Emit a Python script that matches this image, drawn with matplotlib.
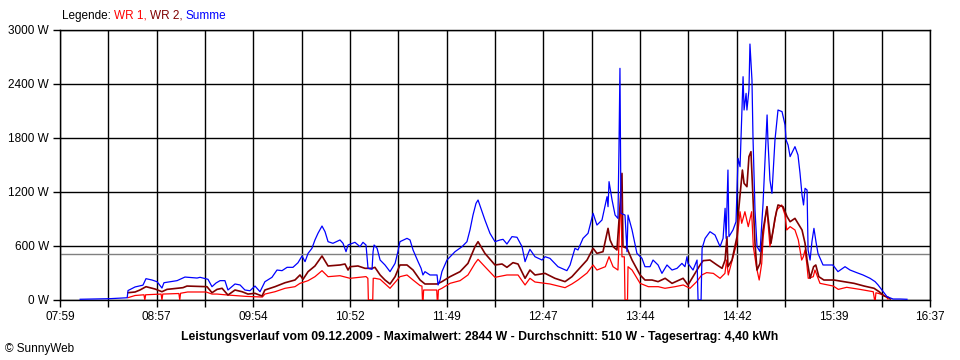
import numpy as np
import matplotlib
matplotlib.use('Agg')
from matplotlib import pyplot as plt

plt.rcParams['font.family'] = ['Liberation Sans', 'DejaVu Sans']

# Zeit in Minuten seit Mitternacht, Leistung in W
t_sum = [491, 509, 519, 519.5, 523.7, 528.4, 530.2, 533.8, 536.8, 539.7, 540.9, 548.7, 553.4, 560.6, 562.4, 567.1,
         569.5, 571.9, 574.3, 577.2, 579, 583.2, 586.2, 589.1, 592.1, 595.1, 598.1, 601, 605.2, 608.2, 611.2, 614.2,
         617.7, 620.7, 623.1, 624.9, 626.7, 629, 630.8, 632.6, 635, 636.8, 638.6, 641.5, 645.7, 647.5, 649.3, 650.5,
         654.6, 657.6, 659.4, 661.2, 662.4, 664.8, 665.4, 666, 667.8, 669.6, 672.5, 675.5, 678.5, 680.2, 681.4, 685.6,
         687.4, 689.2, 692.2, 694, 695.1, 696.3, 699.3, 703.5, 704.1, 705.3, 706.4, 709.4, 714.2, 718.4, 721.3, 723.1,
         724.9, 726.7, 727.9, 730.3, 732, 735, 738, 741, 742.8, 745.1, 748.1, 751.1, 754.1, 755.9, 757.6, 758.8,
         761.8, 766, 767.8, 770.7, 775.5, 780.8, 782.7, 785.6, 787.4, 790.4, 793.4, 796.4, 798.7, 801.7, 804.7, 805.3,
         805.9, 807.7, 809.5, 811.2, 811.8, 812.4, 813, 815.4, 816.6, 817.2, 819.6, 822.5, 825.5, 827.3, 830.3, 832.1,
         835.1, 837.4, 840.4, 843.4, 846.4, 849.3, 851.1, 852.3, 852.9, 855.9, 858.3, 858.9, 860.7, 861.3, 863.1, 866,
         869, 872, 873.8, 875, 875.6, 876.7, 877.3, 879.7, 881.5, 882.7, 883.9, 884.5, 885.7, 886.3, 887.5, 888,
         889.2, 889.8, 891, 891.6, 892.8, 894, 895.8, 897.6, 900, 900.5, 901.7, 902.9, 904.7, 906.5, 908.9, 910.7,
         911.3, 912.5, 913.7, 916.6, 918.4, 919.6, 920.8, 921.7, 922.6, 923.8, 924.4, 925.6, 926.7, 927.9, 929.1, 930.3,
         933.3, 939.2, 942.2, 946.4, 949.4, 953.5, 957.1, 961.3, 964.3, 966.1, 968.4, 971.4, 975, 979.1, 983.3]
p_sum = [8, 15, 25, 105, 145, 165, 237, 222, 203, 133, 192, 215, 255, 244, 252, 230,
         148, 189, 215, 215, 111, 178, 167, 111, 103, 155, 92, 203, 252, 333, 326, 363,
         363, 414, 489, 426, 518, 574, 667, 741, 822, 759, 648, 630, 667, 630, 537, 611,
         641, 593, 641, 611, 352, 341, 537, 611, 574, 444, 389, 315, 407, 537, 648, 685,
         667, 556, 426, 352, 278, 315, 278, 278, 167, 222, 315, 444, 537, 593, 648, 778,
         944, 1074, 1111, 981, 889, 741, 648, 667, 674, 622, 704, 697, 593, 426, 511, 563,
         481, 444, 481, 463, 370, 326, 389, 574, 556, 685, 741, 963, 833, 889, 1148, 1037,
         1315, 1111, 944, 907, 1667, 2574, 963, 944, 537, 944, 778, 518, 463, 370, 370, 444,
         389, 296, 389, 333, 352, 407, 370, 481, 407, 333, 444, 0, 0, 574, 685, 759,
         722, 593, 685, 1019, 685, 1444, 704, 778, 870, 1574, 1481, 1815, 2481, 2111, 2296, 2111,
         2333, 2844, 2444, 1815, 1000, 593, 537, 1074, 2056, 1778, 1333, 1185, 1778, 2111, 2093, 1944,
         1778, 1722, 1593, 1704, 1611, 1411, 1167, 1056, 1241, 1222, 556, 444, 648, 796, 648, 518,
         389, 389, 315, 370, 333, 303, 278, 241, 204, 167, 111, 37, 11, 11, 8]

t_wr2 = [519.5, 523.7, 526.6, 530.2, 535.6, 539.7, 542.7, 552.2, 554.6, 566.5, 569.5, 572.5, 575.5, 579, 583.2, 587.4,
         590.9, 595.1, 599.3, 601, 607, 613, 618.9, 621.9, 623.7, 626.7, 630.8, 635, 638.6, 645.7, 648.7, 650.5,
         651.7, 656.4, 660.6, 664.8, 666.5, 669.6, 672.5, 675.5, 678.5, 681.4, 685.6, 689.2, 693.4, 696.3, 703.5, 706.4,
         711.2, 717.2, 721.9, 726.1, 727.9, 732, 738, 742.2, 745.1, 748.7, 751.7, 755.9, 758.8, 761.8, 767.8, 773.7,
         779.7, 783.8, 787.4, 792.8, 796.4, 798.7, 802.3, 805.3, 806.5, 808.3, 810.6, 812.4, 813.6, 814.2, 816.6, 819.6,
         824.4, 827.3, 831.5, 835.1, 839.3, 843.4, 850, 852.9, 855.9, 860.1, 861.9, 866, 870.2, 873.2, 875, 876.1,
         876.7, 879.1, 882.1, 882.7, 885.3, 886.3, 888, 889.2, 890.4, 891.6, 892.8, 894, 895.8, 897.6, 900, 900.5,
         902.3, 904.7, 906.5, 909.5, 911.9, 913.7, 916.6, 918.4, 920.8, 922.6, 923.8, 925.6, 927.7, 929, 930.8, 933.8,
         939.8, 945.8, 951.8, 957.8, 963.7, 966.7, 969.7, 972.1, 973.3]
p_wr2 = [81, 89, 111, 148, 122, 92, 118, 137, 155, 148, 81, 118, 130, 55, 111, 92,
         66, 74, 44, 111, 148, 192, 222, 278, 230, 315, 378, 489, 378, 389, 400, 333,
         370, 378, 352, 352, 363, 278, 222, 178, 259, 389, 389, 333, 222, 178, 178, 204,
         259, 315, 407, 593, 648, 518, 389, 400, 363, 415, 400, 241, 333, 278, 296, 241,
         204, 259, 333, 444, 574, 518, 537, 796, 667, 593, 556, 1037, 1407, 593, 574, 444,
         278, 222, 222, 204, 241, 185, 241, 167, 259, 389, 437, 444, 389, 352, 444, 704,
         370, 444, 704, 926, 1444, 1296, 1259, 1593, 1648, 1148, 630, 333, 407, 778, 1037, 926,
         630, 907, 1056, 1037, 926, 870, 907, 852, 778, 630, 444, 241, 370, 389, 259, 222,
         222, 204, 185, 155, 130, 92, 44, 30, 11]

t_wr1 = [519.5, 523.7, 527, 529.0, 529.5, 530.0, 535, 539.2, 539.7, 540.2, 548, 549.8, 550.3, 550.8, 555, 566,
         569.5, 572.5, 579, 590, 598.1, 599.5, 601, 607, 613, 618.9, 621.9, 626.7, 630.8, 635, 638.6, 645.7,
         651.7, 656.4, 661.2, 662.3, 662.6, 665.2, 665.5, 666.5, 669.6, 675.5, 681.4, 685.6, 689.2, 693.4, 694.5, 694.8,
         695.2, 695.5, 703.3, 703.6, 704.0, 704.3, 706.4, 711.2, 717.2, 721.9, 726.1, 727.9, 732, 738, 745.1, 751.7,
         755.9, 758.8, 761.8, 770.7, 779.7, 783.8, 787.4, 792.8, 796.4, 798.7, 803.7, 805.9, 808.3, 811.2, 812.4, 813.0,
         813.6, 815.0, 815.4, 816.9, 817.2, 819.6, 824.4, 829.3, 835.2, 839.2, 845.2, 850.1, 854.1, 858.1, 861.1, 864,
         868, 872, 874.9, 875.9, 876.9, 881.9, 883.9, 884.9, 886.8, 888.8, 890.8, 891.8, 893.8, 895.3, 896.8, 897.7,
         899.8, 901.7, 903.7, 905.7, 908.7, 910.7, 911.7, 913.7, 916.6, 918.6, 920.6, 921.6, 922.6, 923.6, 924.5, 927.5,
         928.5, 931.5, 939.4, 942.4, 947.4, 955.3, 963.2, 964.0, 964.4, 964.8, 966.2, 969.2, 971.2, 972]
p_wr1 = [26, 50, 55, 58, 0, 58, 62, 66, 0, 66, 70, 72, 0, 75, 89, 89,
         66, 66, 55, 40, 33, 33, 66, 92, 130, 148, 185, 215, 259, 326, 259, 270,
         241, 250, 260, 241, 0, 0, 241, 241, 230, 130, 259, 278, 222, 160, 155, 0,
         0, 111, 111, 0, 0, 111, 130, 185, 215, 278, 407, 452, 370, 252, 278, 278,
         167, 241, 200, 178, 137, 178, 222, 300, 389, 333, 370, 481, 370, 333, 926, 1150,
         480, 480, 0, 0, 370, 333, 185, 148, 148, 130, 148, 167, 130, 204, 278, 304,
         296, 241, 296, 444, 278, 630, 981, 852, 981, 815, 981, 593, 352, 222, 407, 704,
         1037, 593, 778, 1000, 1056, 944, 778, 815, 778, 667, 444, 481, 556, 407, 241, 259,
         333, 185, 155, 118, 141, 118, 92, 0, 0, 80, 74, 55, 30, 10]

durchschnitt = 510
x_labels = ['07:59', '08:57', '09:54', '10:52', '11:49', '12:47', '13:44', '14:42', '15:39', '16:37']
y_ticks = [0, 600, 1200, 1800, 2400, 3000]
titel = 'Leistungsverlauf vom 09.12.2009 - Maximalwert: 2844 W - Durchschnitt: 510 W - Tagesertrag: 4,40 kWh'

fig = plt.figure(figsize=(9.6, 3.6), dpi=100)
ax = fig.add_axes([60/960, 60/360, 870/960, 270/360])

ax.plot(t_wr1, p_wr1, color='#ff0000', lw=0.9, zorder=3)
ax.plot(t_wr2, p_wr2, color='#800000', lw=1.2, zorder=4)
ax.plot(t_sum, p_sum, color='#0000ff', lw=0.9, zorder=5)
ax.axhline(durchschnitt, color='#808080', lw=1.0, zorder=2)

x_ticks = np.linspace(479, 997, 19)
ax.set_xlim(479, 997)
ax.set_ylim(0, 3000)
ax.set_xticks(x_ticks)
lab = []
for i in range(19):
    lab.append(x_labels[i // 2] if i % 2 == 0 else '')
ax.set_xticklabels(lab, fontsize=8.5)
ax.set_yticks(y_ticks)
ax.set_yticklabels([f'{v} W' for v in y_ticks], fontsize=8.5)
ax.grid(True, color='black', lw=1.0, zorder=1)
ax.set_axisbelow(True)
ax.tick_params(axis='both', length=5, width=1.0, color='black', pad=3)
for s in ax.spines.values():
    s.set_color('black')
    s.set_linewidth(1.0)

fig.text(480/960, 1 - 337/360, titel, ha='center', va='center', fontsize=8.8, fontweight='bold')
fig.text(5/960, 1 - 349/360, '© SunnyWeb', ha='left', va='center', fontsize=8.5)

# Legende als farbiger Text hintereinander
t0 = fig.text(62/960, 1 - 16/360, 'Legende: ', ha='left', va='center', fontsize=8.5, color='black')
prev = t0
for txt, col in [('WR 1, ', '#ff0000'), ('WR 2, ', '#800000'), ('Summe', '#0000ff')]:
    prev = ax.annotate(txt, xy=(1, 0), xycoords=prev, va='bottom', ha='left', fontsize=8.5, color=col)

fig.savefig('out.png', dpi=100)
